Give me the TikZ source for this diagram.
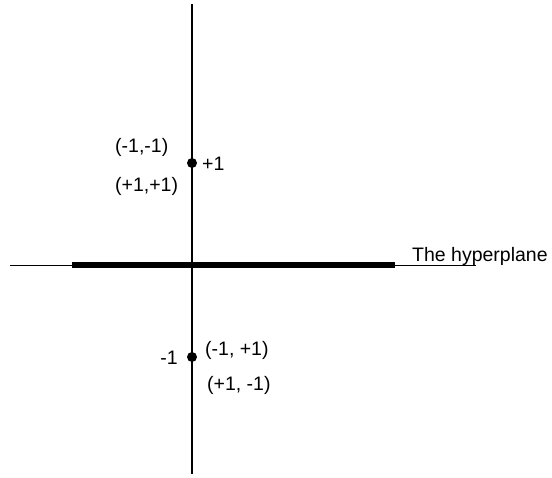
\documentclass[tikz,border=0pt]{standalone}
\usepackage{fontspec}
\setmainfont{Liberation Sans}
\begin{document}
\begin{tikzpicture}[x=1pt,y=-1pt,
  lbl/.style={inner sep=0pt,font=\fontsize{19.5}{22}\selectfont},
  pt/.style={circle,fill=black,inner sep=0pt,minimum size=10pt}]
\useasboundingbox (0,0) rectangle (552,477);
\coordinate (vt) at (192,4);
\coordinate (vb) at (192,474);
\coordinate (hl) at (10,265);
\coordinate (hr) at (476,265);
\coordinate (tl) at (72,265);
\coordinate (tr) at (395,265);
\draw[line width=1.3pt] (vt) -- (vb);
\draw[line width=1pt] (hl) -- (hr);
\draw[line width=6pt] (tl) -- (tr);
\node[pt] (p1) at (192,163) {};
\node[pt] (p2) at (192,357) {};
\node[lbl,anchor=base west] (hp) at (412,261) {The hyperplane};
\node[lbl,anchor=west] (a1) at (115,147) {(-1,-1)};
\node[lbl,anchor=west] (a2) at (115,186) {(+1,+1)};
\node[lbl,anchor=west] (a3) at (202,164) {+1};
\node[lbl,anchor=east] (b3) at (178,358) {-1};
\node[lbl,anchor=west] (b1) at (205,350) {(-1, +1)};
\node[lbl,anchor=west] (b2) at (207,385) {(+1, -1)};
\end{tikzpicture}
\end{document}
